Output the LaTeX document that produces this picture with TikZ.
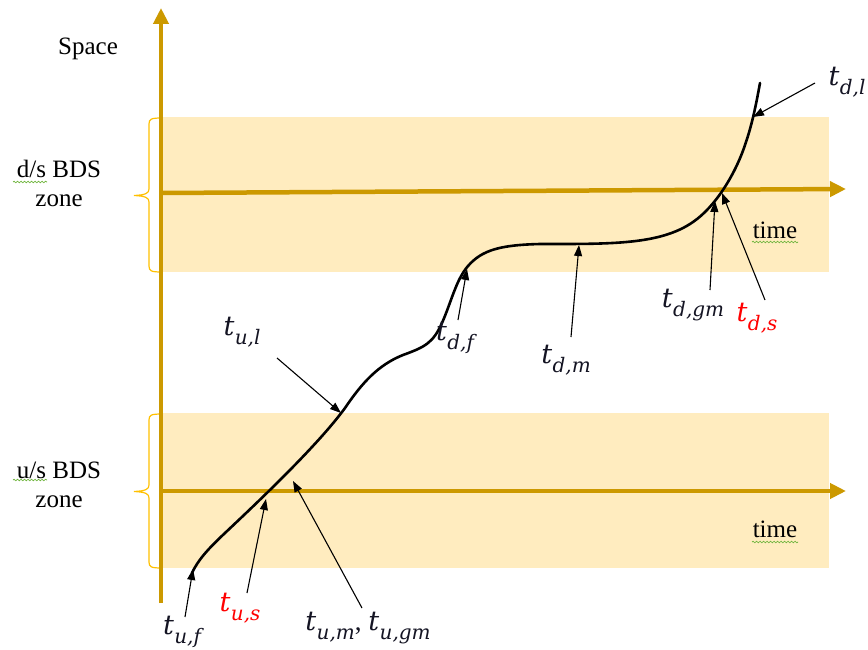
\documentclass[tikz,border=0pt]{standalone}
\usepackage{fontspec}
\setmainfont{Liberation Serif}
\newfontfamily\labfont{DejaVu Serif}
\newcommand{\tlab}[1]{{\labfont\itshape t\kern0.5pt\raisebox{-0.32em}{\fontsize{20}{21}\selectfont #1}}}
\usetikzlibrary{arrows.meta,decorations.pathmorphing}
\definecolor{axisgold}{RGB}{204,153,0}
\definecolor{bandfill}{RGB}{255,236,191}
\definecolor{bracecol}{RGB}{255,192,0}
\definecolor{squig}{RGB}{110,180,60}
\definecolor{labcol}{RGB}{20,20,35}
\begin{document}
\begin{tikzpicture}[x=1pt,y=-1pt,
  axisline/.style={line width=4.5pt, draw=axisgold, -{Triangle[length=16pt,width=15pt]}},
  band/.style={fill=bandfill, draw=none},
  txt/.style={font=\fontsize{25}{28}\selectfont, anchor=base, inner sep=0pt},
  mlbl/.style={font=\fontsize{27}{29}\selectfont, inner sep=1pt, text=labcol},
  pointer/.style={line width=1.1pt, -{Triangle[length=11pt,width=8pt]}},
  zonebrace/.style={draw=bracecol, line width=1.2pt},
  squiggle/.style={draw=squig, line width=0.7pt, decorate, decoration={snake, amplitude=0.8pt, segment length=3.5pt}},
  path/.style={line width=2.6pt, line cap=round}
]
\useasboundingbox (0,0) rectangle (868,650);
% bands
\fill[band] (162,117) rectangle (829,272);
\fill[band] (162,413) rectangle (829,568);
% braces
\draw[zonebrace] (162,118) .. controls (151,118) and (149,119) .. (149,124)
  -- (149,189) .. controls (149,193) and (146,195) .. (134,195.5)
  .. controls (146,196) and (149,198) .. (149,202)
  -- (149,266) .. controls (149,271) and (151,272) .. (162,272);
\draw[zonebrace] (162,414) .. controls (151,414) and (149,415) .. (149,420)
  -- (149,485) .. controls (149,489) and (146,491) .. (134,491.5)
  .. controls (146,492) and (149,494) .. (149,498)
  -- (149,562) .. controls (149,567) and (151,568) .. (162,568);
% axes
\draw[axisline] (161,603) -- (161,8);
\draw[axisline] (161,193) -- (846,189);
\draw[axisline] (161,491) -- (846,491);
% texts
\node[txt] (space) at (88,55) {Space};
\node[txt] (dsbds) at (59,178) {d/s BDS};
\node[txt] (dszone) at (59,207) {zone};
\node[txt] (usbds) at (59,478) {u/s BDS};
\node[txt] (uszone) at (59,507) {zone};
\node[txt] (time1) at (775,238) {time};
\node[txt] (time2) at (775,537) {time};
\draw[squiggle] (13,182) -- (47,182);
\draw[squiggle] (13,480) -- (47,480);
\draw[squiggle] (752,242) -- (798,242);
\draw[squiggle] (752,542) -- (798,542);
% trajectory
\draw[path] (192,573) .. controls (198,560) and (208,549) .. (225,533)
  .. controls (260,500) and (318,445) .. (345,408)
  .. controls (362,383) and (378,365) .. (403,355)
  .. controls (425,347) and (433,343) .. (442,323)
  .. controls (452,300) and (456,280) .. (468,266)
  .. controls (482,250) and (500,245) .. (540,244)
  .. controls (610,244) and (660,245) .. (693,222)
  .. controls (715,207) and (735,175) .. (745,145)
  .. controls (752,125) and (756,105) .. (760,83);
% pointer tips on the path
\coordinate (pdl) at (753,117);
\coordinate (pdgm) at (715,201);
\coordinate (pds) at (722,193);
\coordinate (pdm) at (579,245);
\coordinate (pdf) at (467,269);
\coordinate (pul) at (341,413);
\coordinate (pum) at (293,481);
\coordinate (pus) at (266,499);
\coordinate (puf) at (193,569);
% labels
\node[mlbl] (ldl) at (847,82) {\tlab{d,l}};
\node[mlbl] (ldgm) at (693,305) {\tlab{d,gm}};
\node[mlbl, text=red] (lds) at (757,318) {\tlab{d,s}};
\node[mlbl] (ldm) at (566,360) {\tlab{d,m}};
\node[mlbl] (ldf) at (455,338) {\tlab{d,f}};
\node[mlbl] (lul) at (242,332) {\tlab{u,l}};
\node[mlbl, text=red] (lus) at (240,608) {\tlab{u,s}};
\node[mlbl] (luf) at (182,632) {\tlab{u,f}};
\node[mlbl] (lum) at (368,628) {\tlab{u,m}, \tlab{u,gm}};
% pointer starts
\coordinate (sdl) at (815,83);
\coordinate (sdgm) at (710,290);
\coordinate (sds) at (765,300);
\coordinate (sdm) at (571,337);
\coordinate (sdf) at (458,320);
\coordinate (sul) at (277,358);
\coordinate (sum) at (362,608);
\coordinate (sus) at (247,593);
\coordinate (suf) at (185,617);
\draw[pointer] (sdl) -- (pdl);
\draw[pointer] (sdgm) -- (pdgm);
\draw[pointer] (sds) -- (pds);
\draw[pointer] (sdm) -- (pdm);
\draw[pointer] (sdf) -- (pdf);
\draw[pointer] (sul) -- (pul);
\draw[pointer] (sum) -- (pum);
\draw[pointer] (sus) -- (pus);
\draw[pointer] (suf) -- (puf);
\end{tikzpicture}
\end{document}
